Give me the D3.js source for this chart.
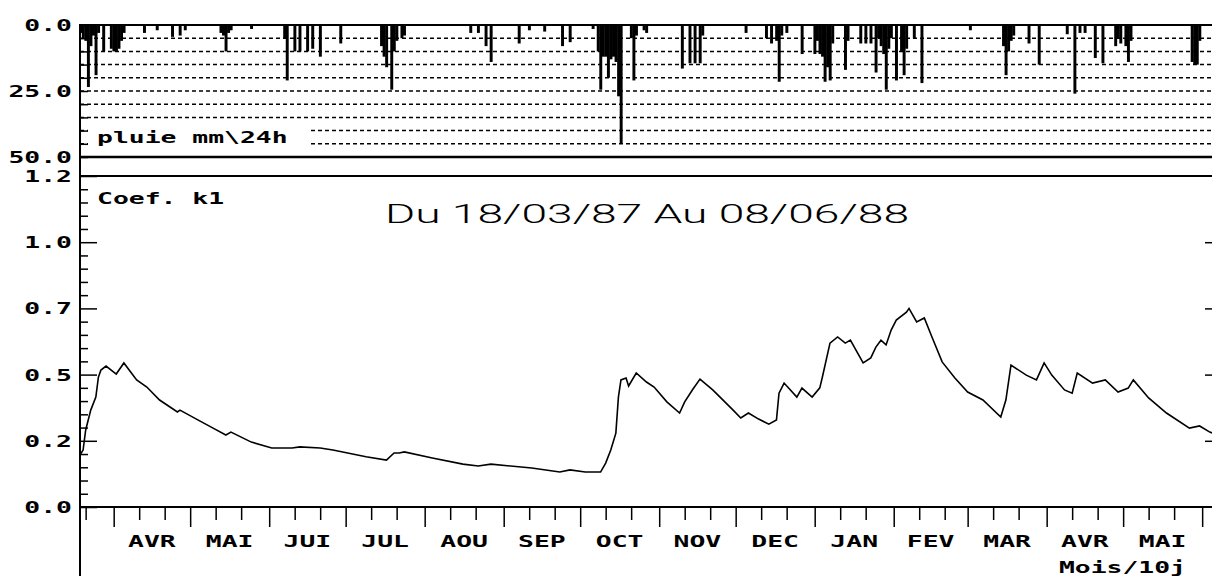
<!DOCTYPE html>
<html><head><meta charset="utf-8">
<script src="https://cdn.jsdelivr.net/npm/d3@7"></script>
<style>
html,body{margin:0;padding:0;background:#fff;}
svg{display:block;}
</style></head><body>
<svg id="c" width="1212" height="576"></svg>
<script>
// ---------- data ----------
const startDate = "1987-03-18";
const endDate = "1988-06-08";
const titleText = "Du 18/03/87 Au 08/06/88";
const monthNames = ["JAN","FEV","MAR","AVR","MAI","JUI","JUL","AOU","SEP","OCT","NOV","DEC"];
const k1AxisLabel = "Coef. k1";
const rainAxisLabel = "pluie mm\\24h";
const xAxisLabel = "Mois/10j";

const k1TickValues = [0, 0.25, 0.5, 0.75, 1, 1.25];
const k1TickLabels = ["0.0", "0.2", "0.5", "0.7", "1.0", "1.2"];
const rainTickValues = [0, 25, 50];
const rainTickLabels = ["0.0", "25.0", "50.0"];

// coefficient k1 : day offset from start, value
const k1Day = [1,2,3,5,7,8,9,11,15,18,
  23,27,32,39,40,47,53,58,60,68,
  76,84,87,95,100,113,121,124,126,128,
  139,151,157,162,178,189,193,199,205,207,
  209,211,212,213,215,216,219,223,226,231,
  236,238,241,244,249,257,260,263,267,271,
  274,275,277,282,284,288,291,292,295,298,
  301,303,308,311,313,315,317,319,321,325,
  326,329,332,335,339,344,349,355,362,364,
  366,372,376,379,382,387,390,392,398,403,
  408,412,414,420,427,436,440,444,448];
const k1Val = [0.20,0.215,0.29,0.366,0.415,0.49,0.517,0.532,0.502,0.544,
  0.48,0.453,0.404,0.359,0.366,0.329,0.298,0.272,0.283,0.245,
  0.223,0.223,0.227,0.223,0.215,0.19,0.177,0.204,0.204,0.208,
  0.185,0.162,0.155,0.162,0.147,0.132,0.14,0.132,0.132,0.166,
  0.215,0.279,0.415,0.48,0.487,0.457,0.506,0.472,0.453,0.397,
  0.355,0.397,0.442,0.483,0.442,0.366,0.336,0.355,0.332,0.313,
  0.329,0.43,0.468,0.415,0.449,0.415,0.45,0.49,0.619,0.642,
  0.619,0.63,0.544,0.563,0.604,0.63,0.612,0.668,0.706,0.736,
  0.75,0.699,0.714,0.642,0.548,0.487,0.434,0.404,0.34,0.404,
  0.536,0.498,0.48,0.544,0.498,0.442,0.43,0.506,0.468,0.48,
  0.434,0.449,0.48,0.412,0.355,0.298,0.306,0.283,0.27];

// daily rainfall (mm/24h) : day offset from start, value
const rainDay = [1,2,3,4,5,6,7,8,10,13,
  14,15,16,17,18,26,31,37,40,42,
  56,57,58,59,60,68,81,82,85,87,
  90,92,95,103,119,120,121,123,124,125,
  127,128,154,157,160,162,173,177,183,190,
  193,202,204,205,206,207,208,209,210,211,
  212,213,217,218,219,222,223,237,240,242,
  244,245,262,270,272,274,275,276,278,284,
  289,290,291,292,293,294,295,296,301,302,
  307,309,311,313,314,315,316,317,318,319,
  321,323,324,325,328,331,350,363,364,365,
  366,367,373,377,388,391,393,395,399,402,
  407,408,409,411,412,413,437,438,439,440];
const rainMm = [3,5,6,23.5,8,4,19,3,10,9,
  10,10,9,6,3,3,2,4.5,4,2,
  3,4,10,3,2,1.5,5,21,10,10,
  10,9,12,7,8,12,16,24.5,10,6,
  5,4,3,3,8,14,7,2,2.5,8,
  6.5,1.5,10,24.5,12,12,20,13,12,14,
  27,45,5,21,4,2,3,16.5,14.5,14.5,
  14.5,4,3,5,7,6,21.5,4,3,11,
  11,6,11,12,21.5,16,21,7,17,6,
  7,7,7,18,5,8,11,24.5,9,5,
  21,10,19,9,5,22,2,8,19,10,
  6,4,7,15,3.5,26,3,3,12.5,14.5,
  8,5,7,8,14,6,14,15,15,6];

// ---------- layout ----------
const W = 1212, H = 576;
const axisX = 80, rightX = 1222;
const svg = d3.select("#c");
const parse = d3.timeParse("%Y-%m-%d");
const t0 = parse(startDate), t1 = parse(endDate);
const dayDate = d => d3.timeDay.offset(t0, d);

const x = d3.scaleTime().domain([t0, t1]).range([78, 1220]);
const yR = d3.scaleLinear().domain([0, 50]).range([25, 157]);
const yK = d3.scaleLinear().domain([0, 1.25]).range([507, 176]);

const FONT = "'DejaVu Sans Mono', 'Liberation Mono', monospace";
function mono(str, px, py, anchor) {
  return svg.append("text")
    .attr("transform", `translate(${px},${py}) scale(1.6,1)`)
    .attr("text-anchor", anchor)
    .attr("font-family", FONT)
    .attr("font-weight", "bold")
    .attr("font-size", 16.5)
    .attr("fill", "#000")
    .text(str);
}

// ---------- rain panel ----------
const gridVals = d3.range(1, 10).map(i => i * 5);
svg.append("g").selectAll("line").data(gridVals).join("line")
  .attr("x1", axisX).attr("x2", W)
  .attr("y1", d => yR(d)).attr("y2", d => yR(d))
  .attr("stroke", "#000").attr("stroke-width", 1.5)
  .attr("stroke-dasharray", "4,3");

const rain = rainDay.map((d, i) => ({ date: dayDate(d), mm: rainMm[i] }));
const bw = x(dayDate(1)) - x(dayDate(0));
svg.append("g").selectAll("rect").data(rain).join("rect")
  .attr("x", d => x(d.date) - bw / 2)
  .attr("width", bw + 0.4)
  .attr("y", yR(0))
  .attr("height", d => yR(d.mm) - yR(0))
  .attr("fill", "#000");

// rain label with white box
svg.append("rect").attr("x", 88).attr("y", 126).attr("width", 222).attr("height", 25).attr("fill", "#fff");
mono(rainAxisLabel, 97, 143, "start");

// rain left axis ticks
const rainAxis = d3.axisRight(yR).tickValues(d3.range(0, 11).map(i => i * 5)).tickSize(8).tickFormat("");
const gra = svg.append("g").attr("transform", `translate(${axisX},0)`).call(rainAxis);
gra.select(".domain").remove();
gra.selectAll(".tick line").attr("stroke", "#000").attr("stroke-width", 1.5);
rainTickValues.forEach((v, i) => mono(rainTickLabels[i], 72, yR(v) + 6, "end"));

// frame lines of rain panel
svg.append("line").attr("x1", axisX).attr("x2", W).attr("y1", yR(0)).attr("y2", yR(0)).attr("stroke", "#000").attr("stroke-width", 2);
svg.append("line").attr("x1", axisX).attr("x2", W).attr("y1", yR(50)).attr("y2", yR(50)).attr("stroke", "#000").attr("stroke-width", 2.5);

// ---------- k1 panel ----------
svg.append("line").attr("x1", axisX).attr("x2", W).attr("y1", yK(1.25)).attr("y2", yK(1.25)).attr("stroke", "#000").attr("stroke-width", 2);
svg.append("line").attr("x1", axisX).attr("x2", W).attr("y1", yK(0)).attr("y2", yK(0)).attr("stroke", "#000").attr("stroke-width", 2);

const minorK = d3.range(0, 26);
const kAxis = d3.axisRight(yK).tickValues(minorK.map(i => i * 0.05)).tickSize(8).tickFormat("");
const gka = svg.append("g").attr("transform", `translate(${axisX},0)`).call(kAxis);
gka.select(".domain").remove();
gka.selectAll(".tick line").attr("stroke", "#000").attr("stroke-width", 1.5)
  .attr("x2", (d, i) => (i % 5 === 0 ? 17 : 8));
k1TickValues.forEach((v, i) => mono(k1TickLabels[i], 72, yK(v) + 6, "end"));

// right ticks
const kAxisR = d3.axisLeft(yK).tickValues([0.25, 0.5, 0.75, 1]).tickSize(17).tickFormat("");
const gkr = svg.append("g").attr("transform", `translate(${rightX},0)`).call(kAxisR);
gkr.select(".domain").remove();
gkr.selectAll(".tick line").attr("stroke", "#000").attr("stroke-width", 1.5);

// left axis line (whole height)
svg.append("line").attr("x1", axisX).attr("x2", axisX).attr("y1", yR(0) - 1).attr("y2", H).attr("stroke", "#000").attr("stroke-width", 2);

// curve
const k1 = k1Day.map((d, i) => ({ date: dayDate(d), v: k1Val[i] }));
svg.append("path").datum(k1)
  .attr("d", d3.line().x(d => x(d.date)).y(d => yK(d.v)))
  .attr("fill", "none").attr("stroke", "#000").attr("stroke-width", 1.6)
  .attr("stroke-linejoin", "miter");

// labels
mono(k1AxisLabel, 97, 204, "start");
svg.append("text")
  .attr("x", 385).attr("y", 223)
  .attr("font-family", "Roboto, 'DejaVu Sans', sans-serif")
  .attr("font-weight", 300)
  .attr("font-size", 25)
  .attr("textLength", 524).attr("lengthAdjust", "spacingAndGlyphs")
  .attr("fill", "#000")
  .text(titleText);

// x axis: decade ticks (1st, 11th, 21st of each month)
const decades = d3.timeDay.range(t0, d3.timeDay.offset(t1, 1)).filter(d => [1, 11, 21].includes(d.getDate()));
const xAxis = d3.axisBottom(x).tickValues(decades).tickSize(13).tickFormat("");
const gx = svg.append("g").attr("transform", `translate(0,${yK(0)})`).call(xAxis);
gx.select(".domain").remove();
gx.selectAll(".tick line").attr("stroke", "#000").attr("stroke-width", 1.5)
  .attr("y2", d => (d.getDate() === 1 ? 20 : 13));

// month labels (full months only)
const months = d3.timeMonth.range(d3.timeMonth.ceil(t0), d3.timeMonth.floor(t1));
months.forEach(m => {
  const next = d3.timeMonth.offset(m, 1);
  const mid = (x(m) + x(next)) / 2;
  mono(monthNames[m.getMonth()], mid, 547, "middle");
});
mono(xAxisLabel, 1186, 573, "end");
</script>
</body></html>
